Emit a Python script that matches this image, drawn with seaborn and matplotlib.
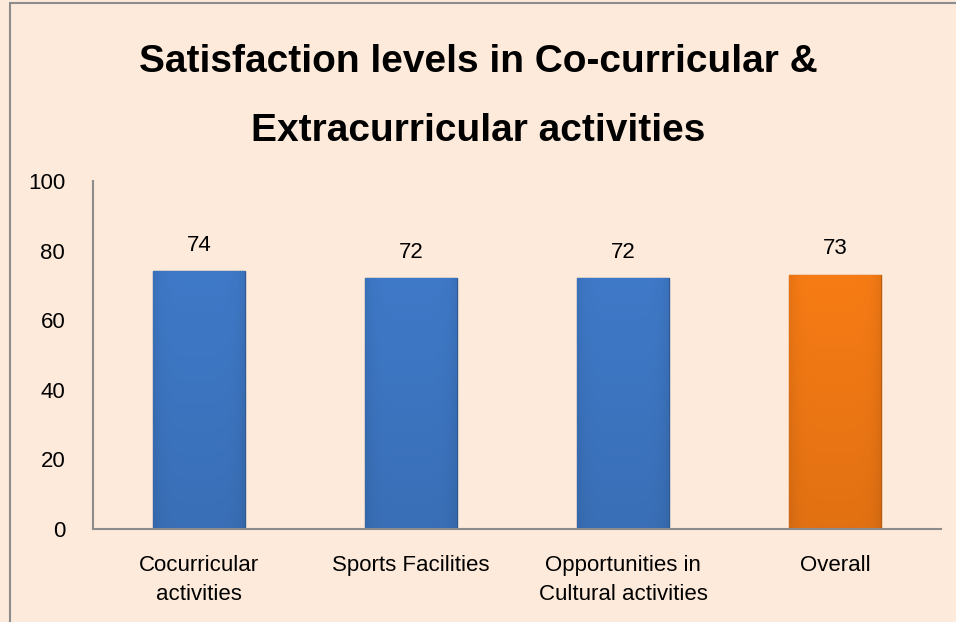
import matplotlib
matplotlib.use("Agg")
import matplotlib.pyplot as plt
import matplotlib.colors as mcolors
import numpy as np
import seaborn as sns
import pandas as pd

# -----------------------------
# Data
# -----------------------------
categories = ["Cocurricular\nactivities", "Sports Facilities",
              "Opportunities in\nCultural activities", "Overall"]
scores = [74, 72, 72, 73]
bar_colors = ["#3D76C2", "#3D76C2", "#3D76C2", "#F07814"]
edge_colors = ["#2E5A94", "#2E5A94", "#2E5A94", "#B85A0C"]
y_ticks = [0, 20, 40, 60, 80, 100]
title_lines = ["Satisfaction levels in Co-curricular &", "Extracurricular activities"]

df = pd.DataFrame({"category": categories, "score": scores})

# -----------------------------
# Plot
# -----------------------------
sns.set_style("white")
fonts = ["Liberation Sans Narrow", "Liberation Sans", "DejaVu Sans"]
plt.rcParams["font.family"] = fonts

bg = "#FDEADA"
fig = plt.figure(figsize=(9.56, 6.22), dpi=100, facecolor=bg)
ax = fig.add_axes([93 / 956, 1 - 529 / 622, (941 - 93) / 956, (529 - 181) / 622])
ax.set_facecolor(bg)

sns.barplot(data=df, x="category", y="score", hue="category",
            palette=bar_colors, width=0.43, legend=False, ax=ax, saturation=1)

# soft shading inside each bar (lighter top, darker bottom and sides)
for patch, col, ec in zip(ax.patches, bar_colors, edge_colors):
    patch.set_edgecolor(ec)
    patch.set_linewidth(1.0)
    x0, y0 = patch.get_x(), patch.get_y()
    w, h = patch.get_width(), patch.get_height()
    base = np.array(mcolors.to_rgb(col))
    yy = np.linspace(1, 0, 200)[:, None]
    xx = np.linspace(-1, 1, 60)[None, :]
    shade = 0.94 + 0.09 * yy - 0.07 * xx ** 6
    img = np.clip(base[None, None, :] * shade[:, :, None], 0, 1)
    im = ax.imshow(img, extent=[x0, x0 + w, y0, y0 + h], aspect="auto",
                   zorder=patch.get_zorder() + 0.1, interpolation="bilinear")
    im.set_clip_path(patch)

for i, v in enumerate(scores):
    ax.text(i, v + 7.5, str(v), ha="center", va="center", fontsize=16,
            color="black")

ax.set_xlim(-0.5, 3.5)
ax.set_ylim(0, 100)
ax.set_yticks(y_ticks)
ax.tick_params(axis="y", labelsize=16, length=0, pad=20, labelcolor="black")
ax.tick_params(axis="x", labelsize=16, length=0, pad=19, labelcolor="black")
for lab in ax.get_xticklabels():
    lab.set_linespacing(1.45)
ax.set_xlabel("")
ax.set_ylabel("")

for side in ["top", "right"]:
    ax.spines[side].set_visible(False)
for side in ["left", "bottom"]:
    ax.spines[side].set_color("#8C8C8C")
    ax.spines[side].set_linewidth(1.5)
    ax.spines[side].set_zorder(5)

fig.text(0.5, 1 - 62 / 622, title_lines[0], ha="center", va="center",
         fontsize=28, fontweight="bold", color="black")
fig.text(0.5, 1 - 131 / 622, title_lines[1], ha="center", va="center",
         fontsize=28, fontweight="bold", color="black")

# chart border (left and top visible)
fig.add_artist(plt.Line2D([10 / 956, 10 / 956], [0, 1 - 3 / 622],
                          transform=fig.transFigure, color="#8C8C8C", lw=1.5))
fig.add_artist(plt.Line2D([10 / 956, 1], [1 - 3 / 622, 1 - 3 / 622],
                          transform=fig.transFigure, color="#8C8C8C", lw=1.5))

fig.savefig("out.png", dpi=100, facecolor=bg)
